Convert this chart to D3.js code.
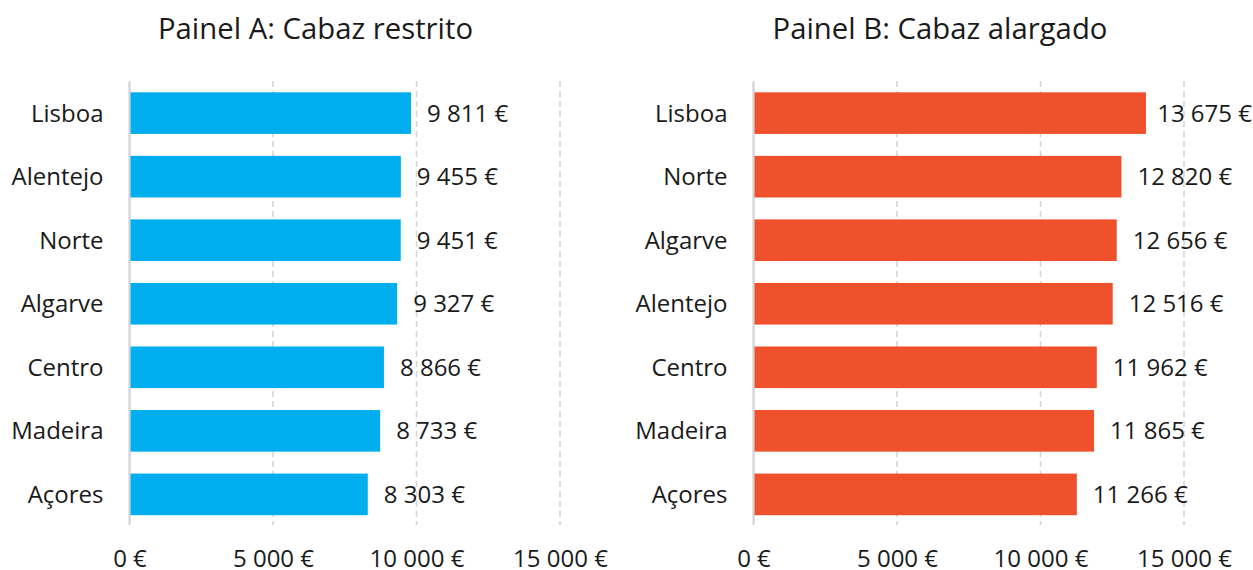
<!DOCTYPE html>
<html><head><meta charset="utf-8">
<script src="https://cdn.jsdelivr.net/npm/d3@7"></script>
<style>
body{margin:0;background:#fff;}
text{font-family:"Open Sans",sans-serif;fill:#1a1a1a;}
</style></head>
<body><svg id="c" width="1253" height="570"></svg>
<script>
const titles = ["Painel A: Cabaz restrito", "Painel B: Cabaz alargado"];
const catsA = ["Lisboa","Alentejo","Norte","Algarve","Centro","Madeira","Açores"];
const valsA = [9811, 9455, 9451, 9327, 8866, 8733, 8303];
const catsB = ["Lisboa","Norte","Algarve","Alentejo","Centro","Madeira","Açores"];
const valsB = [13675, 12820, 12656, 12516, 11962, 11865, 11266];
const tickVals = [0, 5000, 10000, 15000];
const colors = ["#00AEEF", "#F0512D"];

const fmtNum = v => d3.format(",")(v).replace(/,/g, " ") + " €";

const W = 1253;
const svg = d3.select("#c");
const panels = [
  {title:titles[0], cats:catsA, vals:valsA, color:colors[0], x0:129.5, cx:315.5},
  {title:titles[1], cats:catsB, vals:valsB, color:colors[1], x0:753.5, cx:940}
];
const plotW = 430.5, gridTop = 81, gridBottom = 525;
const fs = "24px";

panels.forEach(p => {
  const g = svg.append("g");
  const x = d3.scaleLinear().domain([0,15000]).range([p.x0, p.x0 + plotW]);
  const y = d3.scaleBand().domain(p.cats).range([81.5, 526]).paddingInner(0.345).paddingOuter(0.17);

  g.append("text").attr("x", p.cx).attr("y", 39).attr("text-anchor","middle")
    .style("font-size","29.3px").text(p.title);

  // gridlines
  g.selectAll("line.grid").data(tickVals).join("line")
    .attr("x1", d => x(d)).attr("x2", d => x(d))
    .attr("y1", gridTop).attr("y2", gridBottom)
    .attr("stroke", d => d === 0 ? "#d0d0d0" : "#d4d4d4")
    .attr("stroke-width", d => d === 0 ? 2 : 1.5)
    .attr("stroke-dasharray", d => d === 0 ? null : "6,4");

  // x axis
  const ax = d3.axisBottom(x).tickValues(tickVals).tickSize(0).tickPadding(0).tickFormat(fmtNum);
  const axg = g.append("g").attr("transform", `translate(0,${gridBottom})`).call(ax);
  axg.select(".domain").remove();
  axg.selectAll("text").attr("y", 41.5).attr("dy", null).style("font-size",fs)
    .style("font-family","'Open Sans',sans-serif").attr("fill","#1a1a1a");

  // y axis labels
  const ay = d3.axisLeft(y).tickSize(0).tickPadding(26);
  const ayg = g.append("g").attr("transform", `translate(${p.x0},0)`).call(ay);
  ayg.select(".domain").remove();
  ayg.selectAll("text").style("font-size",fs).attr("dy","0.35em")
    .style("font-family","'Open Sans',sans-serif").attr("fill","#1a1a1a");

  // bars
  g.selectAll("rect.bar").data(p.vals).join("rect")
    .attr("x", x(0) + 1).attr("y", (d,i) => y(p.cats[i]))
    .attr("width", d => x(d) - x(0) - 1).attr("height", y.bandwidth())
    .attr("fill", p.color);

  // value labels (kept inside the picture)
  g.selectAll("text.val").data(p.vals).join("text")
    .attr("y", (d,i) => y(p.cats[i]) + y.bandwidth()/2)
    .attr("dy","0.35em").style("font-size",fs).text(d => fmtNum(d))
    .attr("x", function(d) {
      const w = this.getComputedTextLength();
      return Math.min(x(d) + 16, W - w - 1);
    });
});
</script></body></html>
